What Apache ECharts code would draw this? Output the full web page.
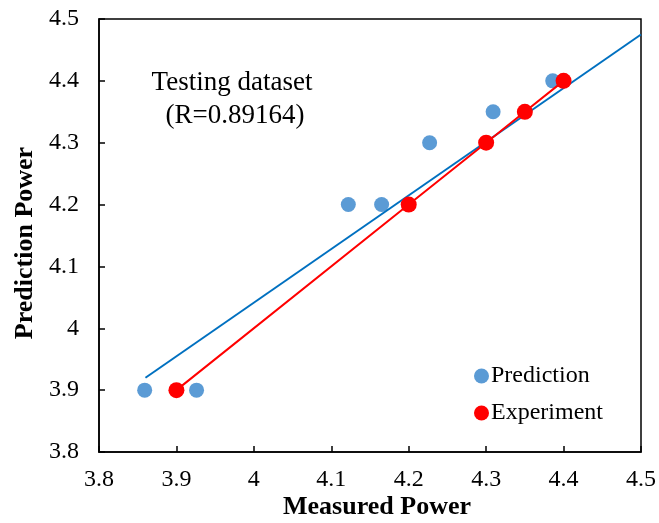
<!DOCTYPE html>
<html>
<head>
<meta charset="utf-8">
<script src="https://cdn.jsdelivr.net/npm/echarts@6/dist/echarts.min.js"></script>
<style>
  html, body { margin: 0; padding: 0; background: #fff; }
  #chart { width: 659px; height: 523px; }
</style>
</head>
<body>
<div id="chart"></div>
<script>
// values
const predMeasured = [3.859, 3.926, 4.122, 4.165, 4.227, 4.309, 4.386]
const predValues = [3.9, 3.9, 4.2, 4.2, 4.3, 4.35, 4.4]
const expMeasured = [3.9, 4.2, 4.3, 4.35, 4.4]
const expValues = [3.9, 4.2, 4.3, 4.35, 4.4]
// linear trend of the prediction points (end points)
const trendX = [3.86, 4.5]
const trendY = [3.92, 4.475]

const serif = 'Liberation Serif, Times New Roman, serif'
const chart = echarts.init(document.getElementById('chart'))

const axisCommon = {
  type: 'value',
  min: 3.8,
  max: 4.5,
  interval: 0.1,
  splitLine: { show: false },
  axisLine: { show: true, lineStyle: { color: '#000', width: 1.5 } },
  axisTick: { show: true, inside: true, length: 6, lineStyle: { color: '#000', width: 1.5 } },
  axisLabel: { color: '#000', fontFamily: serif, fontSize: 24 },
}

const option = {
  backgroundColor: '#fff',
  animation: false,
  grid: {
    left: 99,
    top: 19,
    right: 16,
    bottom: 71,
    show: true,
    borderColor: '#000',
    borderWidth: 1.5,
  },
  xAxis: {
    ...axisCommon,
    axisLabel: { ...axisCommon.axisLabel, margin: 16 },
  },
  yAxis: {
    ...axisCommon,
    axisLabel: { ...axisCommon.axisLabel, margin: 20 },
  },
  legend: {
    orient: 'vertical',
    left: 474,
    top: 364,
    padding: 0,
    itemWidth: 15,
    itemHeight: 15,
    itemGap: 13,
    icon: 'circle',
    textStyle: { color: '#000', fontFamily: serif, fontSize: 24, padding: [0, 0, 0, -3] },
    data: ['Prediction', 'Experiment'],
  },
  graphic: [
    {
      type: 'text',
      x: 232,
      y: 83,
      style: { text: 'Testing dataset', font: '27px ' + serif, fill: '#000', textAlign: 'center', textVerticalAlign: 'middle' },
    },
    {
      type: 'text',
      x: 235,
      y: 116,
      style: { text: '(R=0.89164)', font: '27px ' + serif, fill: '#000', textAlign: 'center', textVerticalAlign: 'middle' },
    },
    {
      type: 'text',
      x: 377,
      y: 507,
      style: { text: 'Measured Power', font: 'bold 26px ' + serif, fill: '#000', textAlign: 'center', textVerticalAlign: 'middle' },
    },
    {
      type: 'text',
      x: 25,
      y: 243,
      rotation: Math.PI / 2,
      style: { text: 'Prediction Power', font: 'bold 26px ' + serif, fill: '#000', textAlign: 'center', textVerticalAlign: 'middle' },
    },
  ],
  series: [
    {
      name: 'Trend',
      type: 'line',
      data: trendX.map((x, i) => [x, trendY[i]]),
      showSymbol: false,
      symbol: 'none',
      lineStyle: { color: '#0070C0', width: 2 },
      z: 3,
    },
    {
      name: 'Prediction',
      type: 'scatter',
      data: predMeasured.map((x, i) => [x, predValues[i]]),
      symbolSize: 15,
      itemStyle: { color: '#5B9BD5', opacity: 1 },
      z: 2,
    },
    {
      name: 'Experiment',
      type: 'line',
      data: expMeasured.map((x, i) => [x, expValues[i]]),
      symbol: 'circle',
      symbolSize: 16,
      itemStyle: { color: '#FF0000' },
      lineStyle: { color: '#FF0000', width: 2 },
      z: 4,
    },
  ],
}

chart.setOption(option)
</script>
</body>
</html>
